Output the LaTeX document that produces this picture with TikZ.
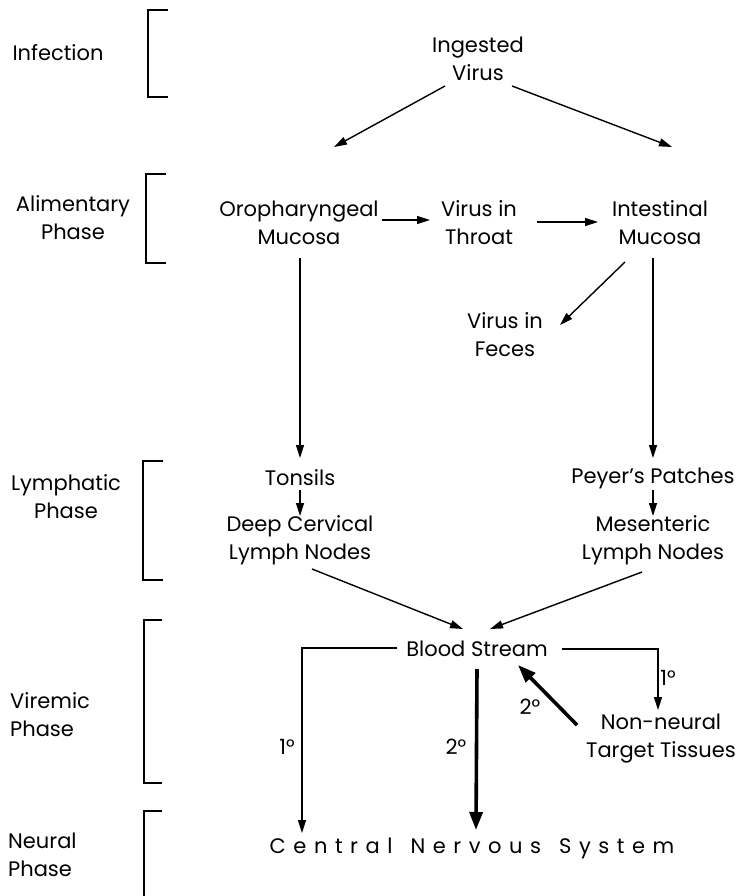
\documentclass[tikz,border=0pt]{standalone}
\usepackage{fontspec}
\setmainfont{Poppins}
\usetikzlibrary{arrows.meta}
\tikzset{
  lbl/.style={font=\fontsize{21}{28}\selectfont, align=center, inner sep=0pt},
  side/.style={font=\fontsize{21}{28}\selectfont, align=center, inner sep=0pt},
  sidel/.style={font=\fontsize{21}{28}\selectfont, align=left, inner sep=0pt, anchor=west},
  arr/.style={line width=1.4pt, -{Triangle[length=13pt,width=8pt]}},
  tarr/.style={line width=3.6pt, -{Triangle[length=18pt,width=13pt]}},
  brk/.style={line width=1.5pt},
  deg/.style={font=\fontsize{21}{24}\selectfont, inner sep=0pt}
}
\begin{document}
\begin{tikzpicture}[x=1pt,y=-1pt]
\useasboundingbox (0,0) rectangle (742,896);
% phase labels
\node[side] (pInf) at (58,53) {Infection};
\node[side] (pAli) at (73,218) {Alimentary\\Phase};
\node[side] (pLym) at (66,497) {Lymphatic\\Phase};
\node[sidel] (pVir) at (10,715) {Viremic\\Phase};
\node[sidel] (pNeu) at (8,855) {Neural\\Phase};
% brackets
\draw[brk] (168,10) -- (148,10) -- (148,97) -- (168,97);
\draw[brk] (166,174) -- (146,174) -- (146,263) -- (166,263);
\draw[brk] (163,461) -- (143,461) -- (143,580) -- (163,580);
\draw[brk] (162,620) -- (144,620) -- (144,783) -- (162,783);
\draw[brk] (162,811) -- (144,811) -- (144,896);
% nodes
\node[lbl] (ing) at (478,59) {Ingested\\Virus};
\node[lbl] (oro) at (299,223) {Oropharyngeal\\Mucosa};
\node[lbl] (thr) at (479,223) {Virus in\\Throat};
\node[lbl] (int) at (660,223) {Intestinal\\Mucosa};
\node[lbl] (fec) at (505,335) {Virus in\\Feces};
\node[lbl] (ton) at (300,478) {Tonsils};
\node[lbl] (dcl) at (300,540) {Deep Cervical\\Lymph Nodes};
\node[lbl] (pey) at (653,478) {Peyer's Patches};
\node[lbl] (mes) at (653,540) {Mesenteric\\Lymph Nodes};
\node[lbl] (blood) at (477,649) {Blood Stream};
\node[lbl] (nn) at (661,739) {Non-neural\\Target Tissues};
\node[lbl] (cns) at (472,848) {\addfontfeature{LetterSpace=36}Central\hspace{18pt}Nervous\hspace{18pt}System};
% arrows
\draw[arr] ([shift={(-33,27)}]ing.center) -- ([shift={(35,-76)}]oro.center);
\draw[arr] ([shift={(34,27)}]ing.center) -- ([shift={(12,-76)}]int.center);
\draw[arr] ([shift={(83,-3)}]oro.center) -- ([shift={(-49,-3)}]thr.center);
\draw[arr] ([shift={(58,-1)}]thr.center) -- ([shift={(-62,-1)}]int.center);
\draw[arr] ([shift={(-35,39)}]int.center) -- ([shift={(55,-10)}]fec.center);
\draw[arr] ([shift={(1,35)}]oro.center) -- ([shift={(0,-20)}]ton.center);
\draw[arr] ([shift={(-7,35)}]int.center) -- ([shift={(0,-20)}]pey.center);
\draw[arr] ([shift={(0,12)}]ton.center) -- ([shift={(0,-24)}]dcl.center);
\draw[arr] ([shift={(0,12)}]pey.center) -- ([shift={(0,-24)}]mes.center);
\draw[arr] ([shift={(12,29)}]dcl.center) -- ([shift={(-14,-20)}]blood.center);
\draw[arr] ([shift={(-11,32)}]mes.center) -- ([shift={(13,-20)}]blood.center);
\draw[arr] ([shift={(-80,-1)}]blood.center) -| ([shift={(-170,-15)}]cns.center);
\draw[arr] ([shift={(85,0)}]blood.center) -| ([shift={(-3,-29)}]nn.center);
\draw[tarr] ([shift={(0,20)}]blood.center) -- ([shift={(4,-18)}]cns.center);
\draw[tarr] ([shift={(-84,-14)}]nn.center) -- ([shift={(41,16)}]blood.center);
% degree labels
\node[deg] (d1) at (287,747) {1°};
\node[deg] (d2) at (668,678) {1°};
\node[deg] (d3) at (456,747) {2°};
\node[deg] (d4) at (530,707) {2°};
\end{tikzpicture}
\end{document}
